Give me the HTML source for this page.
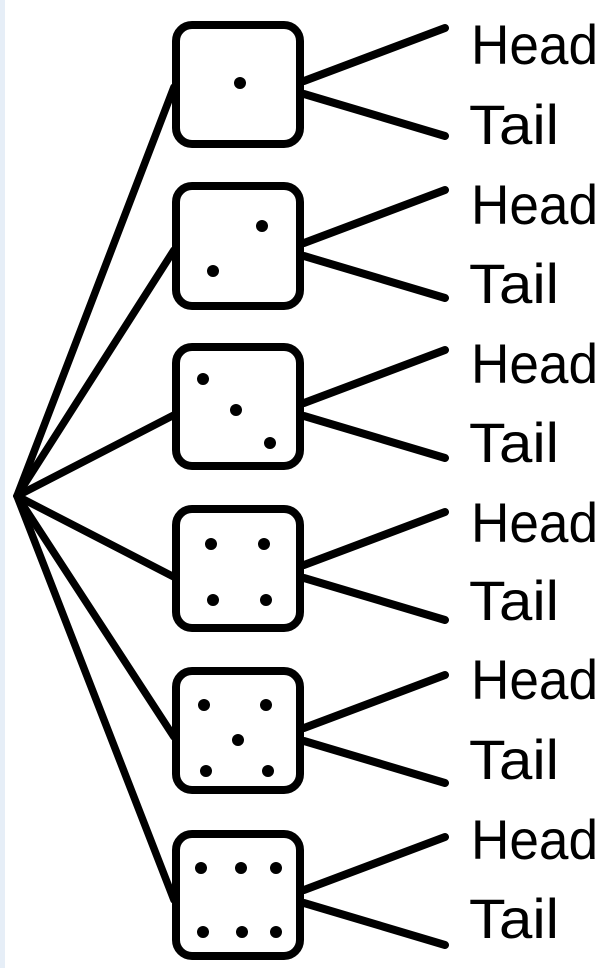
<!DOCTYPE html>
<html><head><meta charset="utf-8"><style>
html,body{margin:0;padding:0;background:#fff;}
svg{display:block}
text{font-family:"Liberation Sans",sans-serif;font-size:56px;fill:#000}
</style></head><body>
<svg width="612" height="968" viewBox="0 0 612 968">
<rect x="0" y="0" width="5" height="968" fill="#e6eef7"/>
<g stroke="#000" stroke-width="7.5" stroke-linecap="round" fill="none">
<line x1="17" y1="496" x2="174" y2="87"/>
<line x1="17" y1="496" x2="174" y2="250"/>
<line x1="17" y1="496" x2="174" y2="415"/>
<line x1="17" y1="496" x2="174" y2="577"/>
<line x1="17" y1="496" x2="174" y2="737"/>
<line x1="17" y1="496" x2="174" y2="900"/>
</g>
<g stroke="#000" stroke-width="8" fill="#fff">
<rect x="176" y="25" width="124" height="119" rx="16"/>
<rect x="176" y="186" width="124" height="120" rx="16"/>
<rect x="176" y="347" width="124" height="119" rx="16"/>
<rect x="176" y="509" width="124" height="119" rx="16"/>
<rect x="176" y="671" width="124" height="119" rx="16"/>
<rect x="176" y="834" width="124" height="122" rx="16"/>
</g>
<g fill="#000">
<circle cx="240" cy="83" r="6"/>
<circle cx="262" cy="226" r="6"/><circle cx="213" cy="271" r="6"/>
<circle cx="203" cy="379" r="6"/><circle cx="236" cy="410" r="6"/><circle cx="270" cy="443" r="6"/>
<circle cx="211" cy="544" r="6"/><circle cx="264" cy="544" r="6"/><circle cx="213" cy="600" r="6"/><circle cx="266" cy="600" r="6"/>
<circle cx="204" cy="705" r="6"/><circle cx="266" cy="705" r="6"/><circle cx="238" cy="740" r="6"/><circle cx="206" cy="771" r="6"/><circle cx="268" cy="771" r="6"/>
<circle cx="201" cy="868" r="6"/><circle cx="241" cy="868" r="6"/><circle cx="276" cy="868" r="6"/><circle cx="203" cy="932" r="6"/><circle cx="242" cy="932" r="6"/><circle cx="276" cy="932" r="6"/>
</g>
<g stroke="#000" stroke-width="8" stroke-linecap="round">
<line x1="304" y1="81" x2="445" y2="28"/><line x1="304" y1="94" x2="445" y2="136"/>
<line x1="304" y1="243" x2="445" y2="190"/><line x1="304" y1="256" x2="445" y2="298"/>
<line x1="304" y1="403" x2="445" y2="350"/><line x1="304" y1="416" x2="445" y2="458"/>
<line x1="304" y1="565" x2="445" y2="512"/><line x1="304" y1="578" x2="445" y2="620"/>
<line x1="304" y1="728" x2="445" y2="675"/><line x1="304" y1="741" x2="445" y2="783"/>
<line x1="304" y1="890" x2="445" y2="837"/><line x1="304" y1="903" x2="445" y2="945"/>
</g>
<g>
<text x="471" y="64" textLength="127" lengthAdjust="spacingAndGlyphs">Head</text><text x="469" y="144" textLength="90" lengthAdjust="spacingAndGlyphs">Tail</text>
<text x="471" y="224" textLength="127" lengthAdjust="spacingAndGlyphs">Head</text><text x="469" y="303" textLength="90" lengthAdjust="spacingAndGlyphs">Tail</text>
<text x="471" y="383" textLength="127" lengthAdjust="spacingAndGlyphs">Head</text><text x="469" y="462" textLength="90" lengthAdjust="spacingAndGlyphs">Tail</text>
<text x="471" y="542" textLength="127" lengthAdjust="spacingAndGlyphs">Head</text><text x="469" y="620" textLength="90" lengthAdjust="spacingAndGlyphs">Tail</text>
<text x="471" y="699" textLength="127" lengthAdjust="spacingAndGlyphs">Head</text><text x="469" y="779" textLength="90" lengthAdjust="spacingAndGlyphs">Tail</text>
<text x="471" y="859" textLength="127" lengthAdjust="spacingAndGlyphs">Head</text><text x="469" y="938" textLength="90" lengthAdjust="spacingAndGlyphs">Tail</text>
</g>
</svg>
</body></html>
